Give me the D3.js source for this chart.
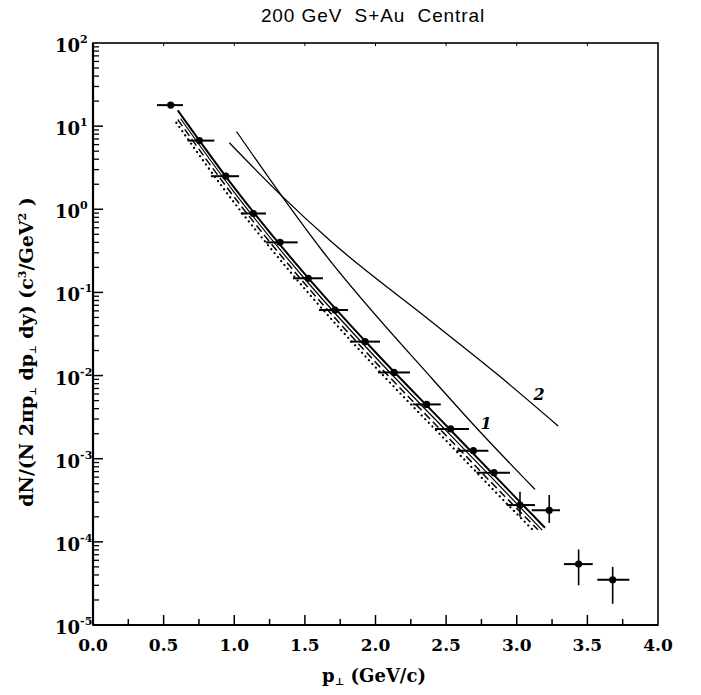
<!DOCTYPE html>
<html>
<head>
<meta charset="utf-8">
<script src="https://cdn.jsdelivr.net/npm/d3@7"></script>
<style>
  body { margin: 0; background: #fff; }
  svg { display: block; }
</style>
</head>
<body>
<div id="chart"></div>
<script>
// measured points: pT, yield, pT error bar ends
const ptData   = [0.55, 0.753, 0.94, 1.135, 1.324, 1.524, 1.713, 1.926, 2.131, 2.362, 2.532, 2.693, 2.839, 3.023, 3.23, 3.438, 3.679];
const yieldData = [17.9, 6.7, 2.5, 0.89, 0.40, 0.148, 0.0615, 0.0256, 0.0109, 0.0045, 0.00228, 0.00125, 0.00068, 0.000277, 0.00024, 0.000054, 0.000035];
const ptLow    = [0.453, 0.670, 0.835, 1.046, 1.225, 1.416, 1.600, 1.819, 2.018, 2.263, 2.421, 2.575, 2.716, 2.929, 3.106, 3.334, 3.570];
const ptHigh   = [0.637, 0.859, 1.034, 1.225, 1.449, 1.628, 1.805, 2.032, 2.244, 2.462, 2.662, 2.799, 2.952, 3.129, 3.306, 3.538, 3.797];
// vertical error bars (only the last four points have visible ones)
const yLow  = [null, null, null, null, null, null, null, null, null, null, null, null, null, 0.00020, 0.000169, 0.000030, 0.000018];
const yHigh = [null, null, null, null, null, null, null, null, null, null, null, null, null, 0.00040, 0.000366, 0.000081, 0.000050];

// fit curves near the data
const fitSolidX = [0.60, 1.0, 1.5, 2.0, 2.5, 3.0, 3.2];
const fitSolidY = [15.5, 1.82, 0.166, 0.0191, 0.00251, 0.000331, 0.000148];
const fitThinX  = [0.62, 1.0, 1.5, 2.0, 2.5, 3.0, 3.18];
const fitThinY  = [12.3, 1.60, 0.145, 0.0166, 0.00218, 0.000288, 0.000138];
const fitDashX  = [0.60, 1.0, 1.5, 2.0, 2.5, 3.0, 3.15];
const fitDashY  = [12.0, 1.40, 0.127, 0.0145, 0.00190, 0.000252, 0.000140];
const fitDotX   = [0.59, 1.0, 1.5, 2.0, 2.5, 3.0, 3.12];
const fitDotY   = [11.0, 1.20, 0.110, 0.0126, 0.00165, 0.000218, 0.000136];

// model curves 1 and 2
const curve1X = [1.017, 1.336, 1.619, 2.409, 2.740, 3.129];
const curve1Y = [8.57, 1.45, 0.324, 0.00885, 0.00211, 0.000428];
const curve2X = [0.965, 1.336, 1.678, 2.386, 2.858, 3.294];
const curve2Y = [6.32, 1.45, 0.42, 0.046, 0.0105, 0.00247];

const curveLabels = ["1", "2"];
const curveLabelX = [2.782, 3.158];
const curveLabelY = [0.00268, 0.0060];

const xMajor = [0, 0.5, 1.0, 1.5, 2.0, 2.5, 3.0, 3.5, 4.0];
const xMinor = [0.25, 0.75, 1.25, 1.75, 2.25, 2.75, 3.25, 3.75];
const yExponents = [2, 1, 0, -1, -2, -3, -4, -5];

const W = 701, H = 695;
const margin = { top: 43, right: 43, bottom: 70, left: 93 };
const width = W - margin.left - margin.right;
const height = H - margin.top - margin.bottom;

const svg = d3.select("#chart")
  .append("svg")
    .attr("width", W)
    .attr("height", H);

const g = svg.append("g")
    .attr("transform", `translate(${margin.left},${margin.top})`);

const x = d3.scaleLinear().domain([0, 4]).range([0, width]);
const y = d3.scaleLog().domain([1e-5, 1e2]).range([height, 0]);

// title
svg.append("text")
  .attr("x", 373)
  .attr("y", 22)
  .attr("text-anchor", "middle")
  .attr("xml:space", "preserve")
  .style("white-space", "pre")
  .style("font-family", "'Liberation Sans', Arial, sans-serif")
  .style("font-size", "19px")
  .style("letter-spacing", "0.9px")
  .text("200 GeV  S+Au  Central");

// frame
g.append("rect")
  .attr("width", width)
  .attr("height", height)
  .attr("fill", "none")
  .attr("stroke", "#000")
  .attr("stroke-width", 1.6);
g.append("line").attr("x1", 0).attr("x2", 0).attr("y1", 0).attr("y2", height)
  .attr("stroke", "#000").attr("stroke-width", 2.2);
g.append("line").attr("x1", 0).attr("x2", width).attr("y1", height).attr("y2", height)
  .attr("stroke", "#000").attr("stroke-width", 2.2);

// x ticks (inward)
g.selectAll(".xmaj")
  .data(xMajor.filter(d => d > 0 && d < 4))
  .enter().append("line")
    .attr("x1", d => x(d)).attr("x2", d => x(d))
    .attr("y1", height).attr("y2", height - 10)
    .attr("stroke", "#000").attr("stroke-width", 1.5);
g.selectAll(".xmin")
  .data(xMinor)
  .enter().append("line")
    .attr("x1", d => x(d)).attr("x2", d => x(d))
    .attr("y1", height).attr("y2", height - 6)
    .attr("stroke", "#000").attr("stroke-width", 1.5);
// small ticks on top edge
g.selectAll(".xtop")
  .data(xMajor.filter(d => d > 0 && d < 4))
  .enter().append("line")
    .attr("x1", d => x(d)).attr("x2", d => x(d))
    .attr("y1", 0).attr("y2", 3)
    .attr("stroke", "#000").attr("stroke-width", 1);

g.selectAll(".xlab")
  .data(xMajor)
  .enter().append("text")
    .attr("x", d => x(d))
    .attr("y", height + 26)
    .attr("text-anchor", "middle")
    .style("font-family", "'DejaVu Serif', serif")
    .style("font-weight", "bold")
    .style("font-size", "17px")
    .text(d => d.toFixed(1));

// y ticks (inward)
const yMinor = [];
yExponents.slice(1).forEach(e => {
  for (let k = 2; k <= 9; k++) yMinor.push(k * Math.pow(10, e));
});
g.selectAll(".ymin")
  .data(yMinor)
  .enter().append("line")
    .attr("x1", 0).attr("x2", 6)
    .attr("y1", d => y(d)).attr("y2", d => y(d))
    .attr("stroke", "#000").attr("stroke-width", 1.3);
g.selectAll(".ymaj")
  .data(yExponents.slice(1, -1))
  .enter().append("line")
    .attr("x1", 0).attr("x2", 10)
    .attr("y1", d => y(Math.pow(10, d))).attr("y2", d => y(Math.pow(10, d)))
    .attr("stroke", "#000").attr("stroke-width", 1.5);

const ylab = g.selectAll(".ylab")
  .data(yExponents)
  .enter().append("text")
    .attr("x", -38)
    .attr("y", d => y(Math.pow(10, d)) + 9)
    .style("font-family", "'DejaVu Serif', serif")
    .style("font-weight", "bold")
    .style("font-size", "18px");
ylab.append("tspan").text("10");
ylab.append("tspan")
  .attr("dy", -9)
  .style("font-size", "11px")
  .text(d => d < 0 ? "-" + Math.abs(d) : d);

// axis titles
const xt = svg.append("text")
  .attr("x", 374)
  .attr("y", 682)
  .attr("text-anchor", "middle")
  .style("font-family", "'DejaVu Serif', serif")
  .style("font-weight", "bold")
  .style("font-size", "18px");
xt.append("tspan").text("p");
xt.append("tspan").attr("dy", 3).style("font-size", "10px").text("\u22a5");
xt.append("tspan").attr("dy", -3).text("  (GeV/c)");

const yt = svg.append("text")
  .attr("transform", "translate(33,352) rotate(-90)")
  .attr("text-anchor", "middle")
  .style("font-family", "'DejaVu Serif', serif")
  .style("font-weight", "bold")
  .style("font-size", "19px");
yt.append("tspan").text("dN/(N 2\u03c0p");
yt.append("tspan").attr("dy", 3).style("font-size", "9px").text("\u22a5");
yt.append("tspan").attr("dy", -3).text(" dp");
yt.append("tspan").attr("dy", 3).style("font-size", "9px").text("\u22a5");
yt.append("tspan").attr("dy", -3).text(" dy)  (c");
yt.append("tspan").attr("dy", -7).style("font-size", "11px").text("3");
yt.append("tspan").attr("dy", 7).text("/GeV");
yt.append("tspan").attr("dy", -7).style("font-size", "11px").text("2");
yt.append("tspan").attr("dy", 7).text(" )");

// curves
const line = d3.line()
  .x(d => x(d[0]))
  .y(d => y(d[1]))
  .curve(d3.curveMonotoneX);
const zip = (xs, ys) => xs.map((v, i) => [v, ys[i]]);

const curves = [
  { pts: zip(fitDotX, fitDotY), w: 2.2, dash: "0.1,5", cap: "round" },
  { pts: zip(fitDashX, fitDashY), w: 1.5, dash: "8,4", cap: "butt" },
  { pts: zip(fitThinX, fitThinY), w: 1.2, dash: null, cap: "butt" },
  { pts: zip(fitSolidX, fitSolidY), w: 2, dash: null, cap: "butt" },
  { pts: zip(curve1X, curve1Y), w: 1.3, dash: null, cap: "butt" },
  { pts: zip(curve2X, curve2Y), w: 1.3, dash: null, cap: "butt" }
];
g.selectAll(".curve")
  .data(curves)
  .enter().append("path")
    .attr("d", d => line(d.pts))
    .attr("fill", "none")
    .attr("stroke", "#000")
    .attr("stroke-width", d => d.w)
    .attr("stroke-linecap", d => d.cap)
    .attr("stroke-dasharray", d => d.dash);

g.selectAll(".clab")
  .data(curveLabels)
  .enter().append("text")
    .attr("x", (d, i) => x(curveLabelX[i]))
    .attr("y", (d, i) => y(curveLabelY[i]) + 6)
    .attr("text-anchor", "middle")
    .style("font-family", "'DejaVu Serif', serif")
    .style("font-style", "italic")
    .style("font-weight", "bold")
    .style("font-size", "16px")
    .text(d => d);

// data points with error bars
const pts = ptData.map((p, i) => ({
  p: p, v: yieldData[i], lo: ptLow[i], hi: ptHigh[i], ylo: yLow[i], yhi: yHigh[i]
}));
g.selectAll(".hbar")
  .data(pts)
  .enter().append("line")
    .attr("x1", d => x(d.lo)).attr("x2", d => x(d.hi))
    .attr("y1", d => y(d.v)).attr("y2", d => y(d.v))
    .attr("stroke", "#000").attr("stroke-width", 2);
g.selectAll(".vbar")
  .data(pts.filter(d => d.ylo !== null))
  .enter().append("line")
    .attr("x1", d => x(d.p)).attr("x2", d => x(d.p))
    .attr("y1", d => y(d.ylo)).attr("y2", d => y(d.yhi))
    .attr("stroke", "#000").attr("stroke-width", 1.6);
g.selectAll(".dot")
  .data(pts)
  .enter().append("circle")
    .attr("cx", d => x(d.p))
    .attr("cy", d => y(d.v))
    .attr("r", 3.6)
    .attr("fill", "#000");
</script>
</body>
</html>
